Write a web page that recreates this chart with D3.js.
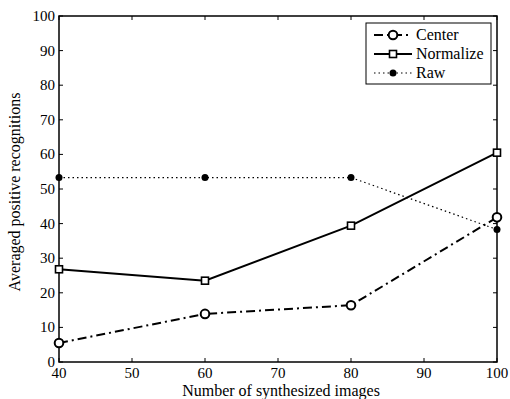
<!DOCTYPE html>
<html>
<head>
<meta charset="utf-8">
<script src="https://cdn.jsdelivr.net/npm/d3@7"></script>
<style>
  body { margin: 0; background: #fff; }
</style>
</head>
<body>
<div id="chart"></div>
<script>
// values
const xValues = [40, 60, 80, 100];
const center = [5.5, 13.9, 16.4, 41.8];
const normalize = [26.8, 23.5, 39.4, 60.5];
const raw = [53.3, 53.3, 53.3, 38.3];
const xTicks = [40, 50, 60, 70, 80, 90, 100];
const yTicks = [0, 10, 20, 30, 40, 50, 60, 70, 80, 90, 100];

const width = 510, height = 399;
const margin = {top: 16, right: 13, bottom: 37, left: 59};
const serif = "Liberation Serif";

const svg = d3.select("#chart")
  .append("svg")
  .attr("width", width)
  .attr("height", height);

const x = d3.scaleLinear()
  .domain([40, 100])
  .range([margin.left, width - margin.right]);

const y = d3.scaleLinear()
  .domain([0, 100])
  .range([height - margin.bottom, margin.top]);

// frame
svg.append("rect")
  .attr("x", x(40)).attr("y", y(100))
  .attr("width", x(100) - x(40)).attr("height", y(0) - y(100))
  .attr("fill", "none").attr("stroke", "#000").attr("stroke-width", 1.5);

// inward ticks on all four sides
const tickLen = 4;
const ticks = svg.append("g").attr("stroke", "#000").attr("stroke-width", 1);
xTicks.forEach(t => {
  ticks.append("line").attr("x1", x(t)).attr("x2", x(t)).attr("y1", y(0)).attr("y2", y(0) - tickLen);
  ticks.append("line").attr("x1", x(t)).attr("x2", x(t)).attr("y1", y(100)).attr("y2", y(100) + tickLen);
});
yTicks.forEach(t => {
  ticks.append("line").attr("x1", x(40)).attr("x2", x(40) + tickLen).attr("y1", y(t)).attr("y2", y(t));
  ticks.append("line").attr("x1", x(100)).attr("x2", x(100) - tickLen).attr("y1", y(t)).attr("y2", y(t));
});

svg.append("g").selectAll("text")
  .data(xTicks).enter().append("text")
  .attr("x", d => x(d)).attr("y", y(0) + 16)
  .attr("text-anchor", "middle")
  .attr("font-family", serif)
  .attr("font-size", 15)
  .text(d => d);

svg.append("g").selectAll("text")
  .data(yTicks).enter().append("text")
  .attr("x", x(40) - 4).attr("y", d => y(d) + 5)
  .attr("text-anchor", "end")
  .attr("font-family", serif)
  .attr("font-size", 15)
  .text(d => d);

svg.append("text")
  .attr("x", 281).attr("y", height - 3)
  .attr("text-anchor", "middle").attr("font-size", 16)
  .attr("font-family", serif)
  .text("Number of synthesized images");

svg.append("text")
  .attr("transform", "translate(20, 192) rotate(-90)")
  .attr("text-anchor", "middle").attr("font-size", 16)
  .attr("font-family", serif)
  .text("Averaged positive recognitions");

const series = [
  {name: "Center", values: center, dash: "9,4,2,4", marker: "circle"},
  {name: "Normalize", values: normalize, dash: null, marker: "square"},
  {name: "Raw", values: raw, dash: "1.5,3", marker: "dot"}
];

const line = d3.line().x((d, i) => x(xValues[i])).y(d => y(d));

function drawMarker(g, mx, my, type) {
  if (type === "circle") {
    g.append("circle").attr("cx", mx).attr("cy", my).attr("r", 4.3)
      .attr("fill", "#fff").attr("stroke", "#000").attr("stroke-width", 2);
  } else if (type === "square") {
    g.append("rect").attr("x", mx - 3.5).attr("y", my - 3.5).attr("width", 7).attr("height", 7)
      .attr("fill", "#fff").attr("stroke", "#000").attr("stroke-width", 1.6);
  } else {
    g.append("circle").attr("cx", mx).attr("cy", my).attr("r", 3.5).attr("fill", "#000");
  }
}

series.forEach(s => {
  const g = svg.append("g");
  g.append("path")
    .datum(s.values)
    .attr("d", line)
    .attr("fill", "none")
    .attr("stroke", "#000")
    .attr("stroke-width", s.marker === "dot" ? 1.2 : 2)
    .attr("stroke-dasharray", s.dash);
  s.values.forEach((v, i) => drawMarker(g, x(xValues[i]), y(v), s.marker));
});

// legend
const lg = svg.append("g").attr("transform", "translate(366, 23)");
lg.append("rect").attr("width", 125).attr("height", 61)
  .attr("fill", "#fff").attr("stroke", "#000").attr("stroke-width", 1);
series.forEach((s, i) => {
  const ly = 12 + i * 19;
  lg.append("line").attr("x1", 8).attr("x2", 46).attr("y1", ly).attr("y2", ly)
    .attr("stroke", "#000")
    .attr("stroke-width", s.marker === "dot" ? 1.2 : 2)
    .attr("stroke-dasharray", s.dash);
  drawMarker(lg, 27, ly, s.marker);
  lg.append("text").attr("x", 50).attr("y", ly + 5)
    .attr("font-family", serif)
    .attr("font-size", 16).text(s.name);
});
</script>
</body>
</html>
